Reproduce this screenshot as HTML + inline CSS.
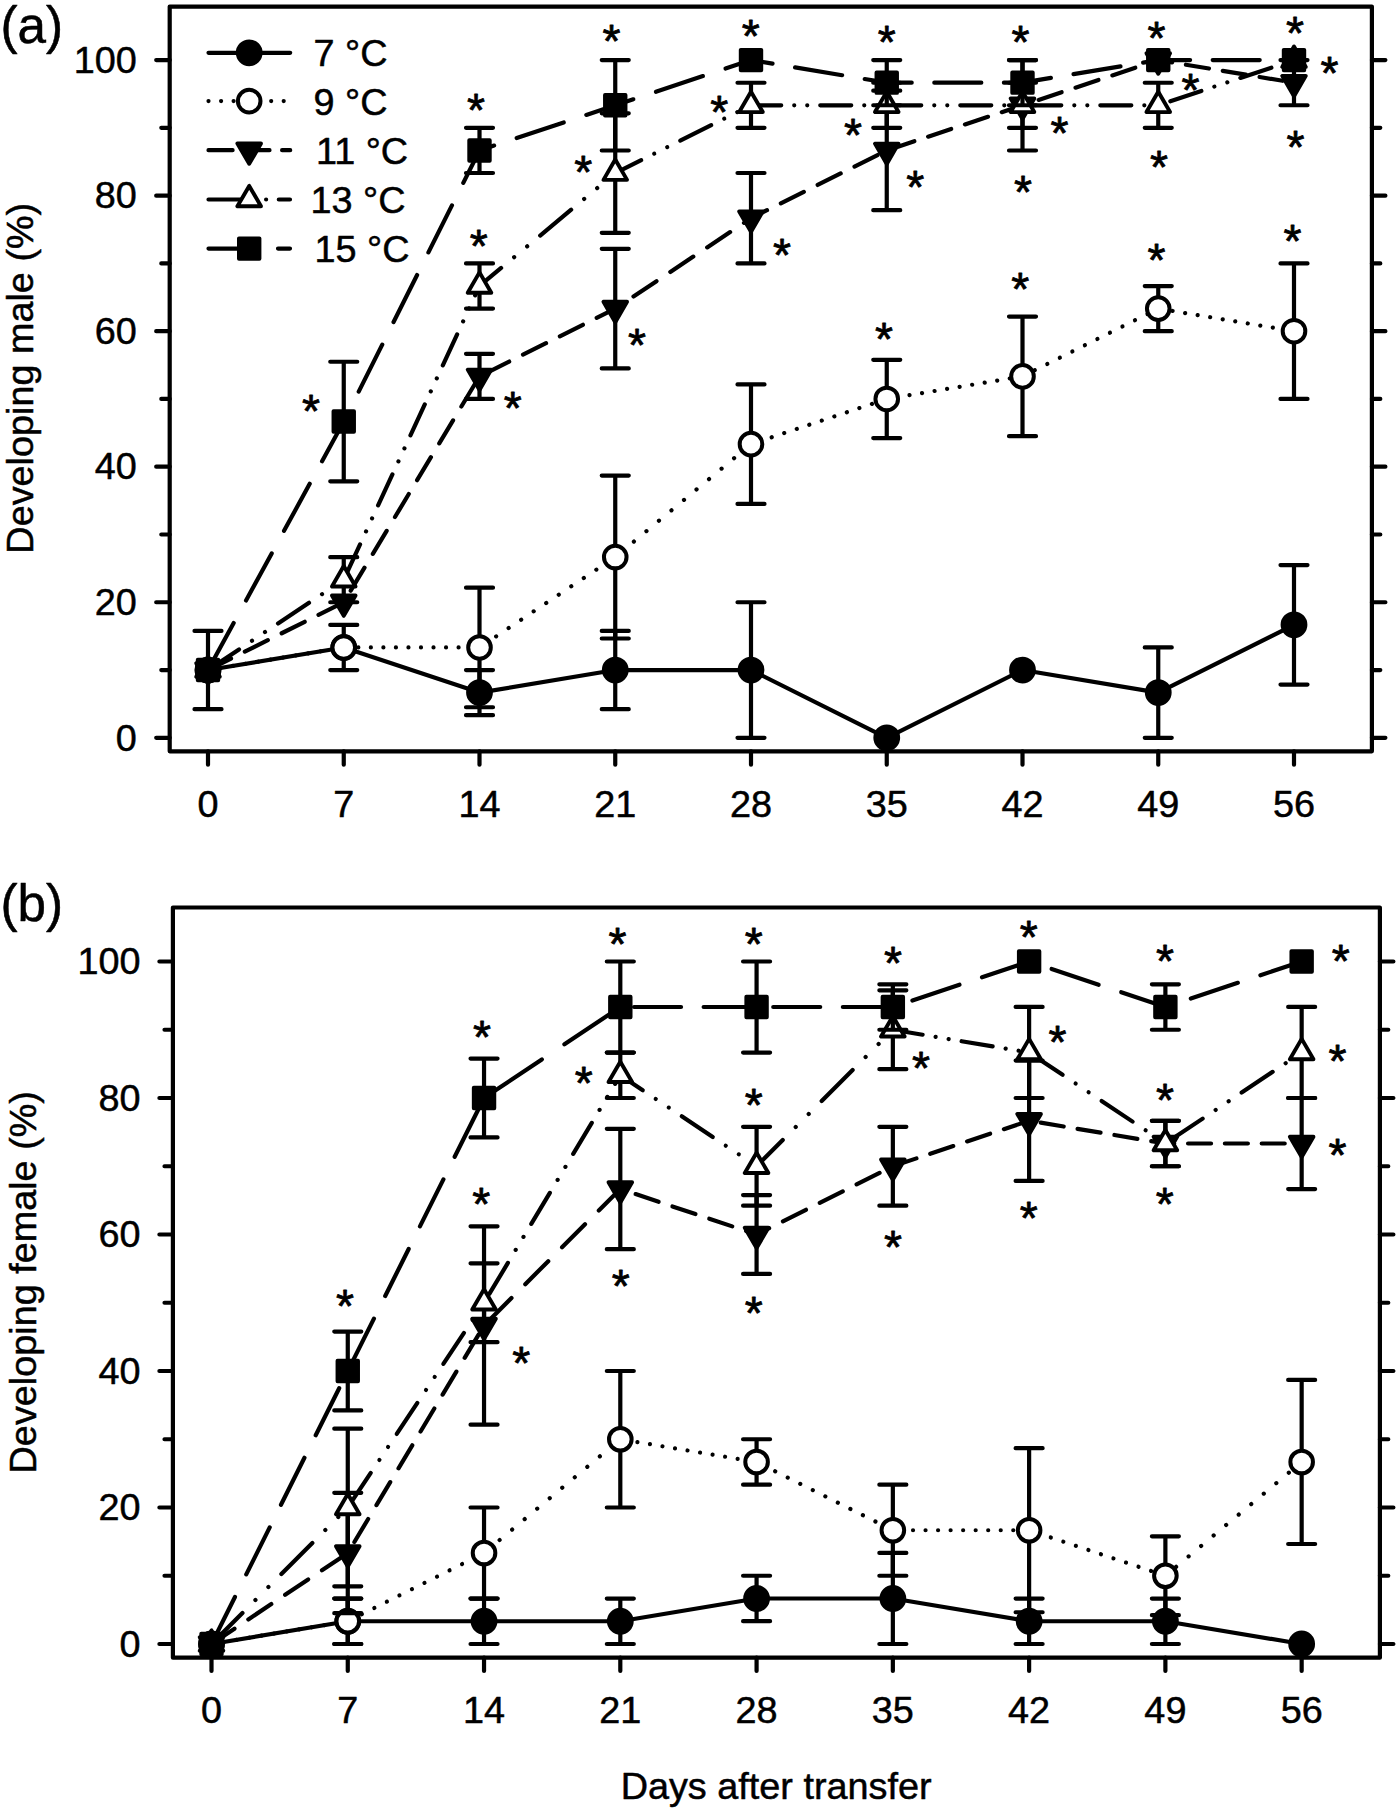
<!DOCTYPE html>
<html lang="en"><head><meta charset="utf-8"><title>Developing male and female (%) by days after transfer</title>
<style>html,body{margin:0;padding:0;background:#fff}body{width:1400px;height:1812px;overflow:hidden}svg{display:block}text{font-family:"Liberation Sans", Arial, Helvetica, sans-serif;fill:#000;stroke:#000;stroke-width:0.5px;stroke-linejoin:round}.st text{stroke-width:0.8px}</style>
</head><body>
<svg width="1400" height="1812" viewBox="0 0 1400 1812">
<rect width="1400" height="1812" fill="#fff"/>
<rect x="169.7" y="6.6" width="1202.2" height="744.75" fill="none" stroke="#000" stroke-width="4.2" stroke-linejoin="round"/>
<path d="M169.7 737.8H156.2M1371.9 737.8H1385.4M169.7 670.03H161.3M1371.9 670.03H1380.3M169.7 602.26H156.2M1371.9 602.26H1385.4M169.7 534.49H161.3M1371.9 534.49H1380.3M169.7 466.72H156.2M1371.9 466.72H1385.4M169.7 398.95H161.3M1371.9 398.95H1380.3M169.7 331.18H156.2M1371.9 331.18H1385.4M169.7 263.41H161.3M1371.9 263.41H1380.3M169.7 195.64H156.2M1371.9 195.64H1385.4M169.7 127.87H161.3M1371.9 127.87H1380.3M169.7 60.1H156.2M1371.9 60.1H1385.4M208 751.35V764.65M343.75 751.35V764.65M479.5 751.35V764.65M615.25 751.35V764.65M751 751.35V764.65M886.75 751.35V764.65M1022.5 751.35V764.65M1158.25 751.35V764.65M1294 751.35V764.65" fill="none" stroke="#000" stroke-width="4.2" stroke-linecap="round"/>
<g font-size="37.8" text-anchor="end">
<text x="136.8" y="750.5">0</text>
<text x="136.8" y="614.96">20</text>
<text x="136.8" y="479.42">40</text>
<text x="136.8" y="343.88">60</text>
<text x="136.8" y="208.34">80</text>
<text x="136.8" y="72.8">100</text>
</g>
<g font-size="37.8" text-anchor="middle">
<text x="208" y="817.1">0</text>
<text x="343.75" y="817.1">7</text>
<text x="479.5" y="817.1">14</text>
<text x="615.25" y="817.1">21</text>
<text x="751" y="817.1">28</text>
<text x="886.75" y="817.1">35</text>
<text x="1022.5" y="817.1">42</text>
<text x="1158.25" y="817.1">49</text>
<text x="1294" y="817.1">56</text>
</g>
<text font-size="37.8" text-anchor="middle" transform="translate(32.9 378.25) rotate(-90)">Developing male (%)</text>
<g fill="none" stroke="#000" stroke-width="4.2" stroke-linecap="round">
<line x1="208" y1="670.03" x2="343.75" y2="647.46"/>
<line x1="343.75" y1="647.46" x2="479.5" y2="692.6"/>
<line x1="479.5" y1="692.6" x2="615.25" y2="670.03"/>
<line x1="615.25" y1="670.03" x2="751" y2="670.03"/>
<line x1="751" y1="670.03" x2="886.75" y2="737.8"/>
<line x1="886.75" y1="737.8" x2="1022.5" y2="670.03"/>
<line x1="1022.5" y1="670.03" x2="1158.25" y2="692.6"/>
<line x1="1158.25" y1="692.6" x2="1294" y2="624.83"/>
<path d="M208 709.13V630.93M194.5 709.13H221.5M194.5 630.93H221.5"/>
<path d="M479.5 715.16V670.03M466 715.16H493M466 670.03H493"/>
<path d="M615.25 709.13V630.93M601.75 709.13H628.75M601.75 630.93H628.75"/>
<path d="M751 737.8V602.26M737.5 737.8H764.5M737.5 602.26H764.5"/>
<path d="M1158.25 737.8V647.39M1144.75 737.8H1171.75M1144.75 647.39H1171.75"/>
<path d="M1294 684.6V565.05M1280.5 684.6H1307.5M1280.5 565.05H1307.5"/>
</g>
<g>
<circle cx="208" cy="670.03" r="11.45" fill="#000" stroke="#000" stroke-width="3.9"/>
<circle cx="343.75" cy="647.46" r="11.45" fill="#000" stroke="#000" stroke-width="3.9"/>
<circle cx="479.5" cy="692.6" r="11.45" fill="#000" stroke="#000" stroke-width="3.9"/>
<circle cx="615.25" cy="670.03" r="11.45" fill="#000" stroke="#000" stroke-width="3.9"/>
<circle cx="751" cy="670.03" r="11.45" fill="#000" stroke="#000" stroke-width="3.9"/>
<circle cx="886.75" cy="737.8" r="11.45" fill="#000" stroke="#000" stroke-width="3.9"/>
<circle cx="1022.5" cy="670.03" r="11.45" fill="#000" stroke="#000" stroke-width="3.9"/>
<circle cx="1158.25" cy="692.6" r="11.45" fill="#000" stroke="#000" stroke-width="3.9"/>
<circle cx="1294" cy="624.83" r="11.45" fill="#000" stroke="#000" stroke-width="3.9"/>
</g>
<g fill="none" stroke="#000" stroke-width="4.2" stroke-linecap="round">
<line x1="208" y1="670.03" x2="343.75" y2="647.46" stroke-dasharray="0.01 12.69" stroke-dashoffset="0"/>
<line x1="343.75" y1="647.46" x2="479.5" y2="647.46" stroke-dasharray="0.01 12.52" stroke-dashoffset="10.48"/>
<line x1="479.5" y1="647.46" x2="615.25" y2="557.06" stroke-dasharray="0.01 15.04" stroke-dashoffset="10.13"/>
<line x1="615.25" y1="557.06" x2="751" y2="444.15" stroke-dasharray="0.01 16.28" stroke-dashoffset="8.31"/>
<line x1="751" y1="444.15" x2="886.75" y2="398.95" stroke-dasharray="0.01 13.19" stroke-dashoffset="4.57"/>
<line x1="886.75" y1="398.95" x2="1022.5" y2="376.38" stroke-dasharray="0.01 12.69" stroke-dashoffset="2.32"/>
<line x1="1022.5" y1="376.38" x2="1158.25" y2="308.61" stroke-dasharray="0.01 13.99" stroke-dashoffset="0.27"/>
<line x1="1158.25" y1="308.61" x2="1294" y2="331.18" stroke-dasharray="0.01 12.69" stroke-dashoffset="10.87"/>
<path d="M343.75 670.03V624.9M330.25 670.03H357.25M330.25 624.9H357.25"/>
<path d="M479.5 707.24V587.69M466 707.24H493M466 587.69H493"/>
<path d="M615.25 638.52V475.6M601.75 638.52H628.75M601.75 475.6H628.75"/>
<path d="M751 503.93V384.38M737.5 503.93H764.5M737.5 384.38H764.5"/>
<path d="M886.75 438.05V359.85M873.25 438.05H900.25M873.25 359.85H900.25"/>
<path d="M1022.5 436.16V316.61M1009 436.16H1036M1009 316.61H1036"/>
<path d="M1158.25 331.18V286.05M1144.75 331.18H1171.75M1144.75 286.05H1171.75"/>
<path d="M1294 398.95V263.41M1280.5 398.95H1307.5M1280.5 263.41H1307.5"/>
</g>
<g>
<circle cx="208" cy="670.03" r="11.3" fill="#fff" stroke="#000" stroke-width="4"/>
<circle cx="343.75" cy="647.46" r="11.3" fill="#fff" stroke="#000" stroke-width="4"/>
<circle cx="479.5" cy="647.46" r="11.3" fill="#fff" stroke="#000" stroke-width="4"/>
<circle cx="615.25" cy="557.06" r="11.3" fill="#fff" stroke="#000" stroke-width="4"/>
<circle cx="751" cy="444.15" r="11.3" fill="#fff" stroke="#000" stroke-width="4"/>
<circle cx="886.75" cy="398.95" r="11.3" fill="#fff" stroke="#000" stroke-width="4"/>
<circle cx="1022.5" cy="376.38" r="11.3" fill="#fff" stroke="#000" stroke-width="4"/>
<circle cx="1158.25" cy="308.61" r="11.3" fill="#fff" stroke="#000" stroke-width="4"/>
<circle cx="1294" cy="331.18" r="11.3" fill="#fff" stroke="#000" stroke-width="4"/>
</g>
<g fill="none" stroke="#000" stroke-width="4.2" stroke-linecap="round">
<line x1="208" y1="670.03" x2="343.75" y2="602.26" stroke-dasharray="25.71 15.46" stroke-dashoffset="0"/>
<line x1="343.75" y1="602.26" x2="479.5" y2="376.38" stroke-dasharray="26.83 16.14" stroke-dashoffset="29.47"/>
<line x1="479.5" y1="376.38" x2="615.25" y2="308.61" stroke-dasharray="25.71 15.46" stroke-dashoffset="33.71"/>
<line x1="615.25" y1="308.61" x2="751" y2="218.21" stroke-dasharray="27.63 16.62" stroke-dashoffset="22.33"/>
<line x1="751" y1="218.21" x2="886.75" y2="150.44" stroke-dasharray="25.71 15.46" stroke-dashoffset="7.84"/>
<line x1="886.75" y1="150.44" x2="1022.5" y2="105.3" stroke-dasharray="24.24 14.57" stroke-dashoffset="34.01"/>
<line x1="1022.5" y1="105.3" x2="1158.25" y2="60.1" stroke-dasharray="24.24 14.58" stroke-dashoffset="21.83"/>
<line x1="1158.25" y1="60.1" x2="1294" y2="82.67" stroke-dasharray="23.32 14.02" stroke-dashoffset="9.26"/>
<path d="M479.5 398.95V353.82M466 398.95H493M466 353.82H493"/>
<path d="M615.25 368.39V248.84M601.75 368.39H628.75M601.75 248.84H628.75"/>
<path d="M751 263.41V173M737.5 263.41H764.5M737.5 173H764.5"/>
<path d="M886.75 210.21V90.66M873.25 210.21H900.25M873.25 90.66H900.25"/>
<path d="M1022.5 150.51V60.1M1009 150.51H1036M1009 60.1H1036"/>
<path d="M1294 105.23V60.1M1280.5 105.23H1307.5M1280.5 60.1H1307.5"/>
</g>
<g>
<polygon points="196.2,663.23 219.8,663.23 208,683.63" fill="#000" stroke="#000" stroke-width="3.9" stroke-linejoin="round"/>
<polygon points="331.95,595.46 355.55,595.46 343.75,615.86" fill="#000" stroke="#000" stroke-width="3.9" stroke-linejoin="round"/>
<polygon points="467.7,369.58 491.3,369.58 479.5,389.98" fill="#000" stroke="#000" stroke-width="3.9" stroke-linejoin="round"/>
<polygon points="603.45,301.81 627.05,301.81 615.25,322.21" fill="#000" stroke="#000" stroke-width="3.9" stroke-linejoin="round"/>
<polygon points="739.2,211.41 762.8,211.41 751,231.81" fill="#000" stroke="#000" stroke-width="3.9" stroke-linejoin="round"/>
<polygon points="874.95,143.64 898.55,143.64 886.75,164.04" fill="#000" stroke="#000" stroke-width="3.9" stroke-linejoin="round"/>
<polygon points="1010.7,98.5 1034.3,98.5 1022.5,118.9" fill="#000" stroke="#000" stroke-width="3.9" stroke-linejoin="round"/>
<polygon points="1146.45,53.3 1170.05,53.3 1158.25,73.7" fill="#000" stroke="#000" stroke-width="3.9" stroke-linejoin="round"/>
<polygon points="1282.2,75.87 1305.8,75.87 1294,96.27" fill="#000" stroke="#000" stroke-width="3.9" stroke-linejoin="round"/>
</g>
<g fill="none" stroke="#000" stroke-width="4.2" stroke-linecap="round">
<line x1="208" y1="670.03" x2="343.75" y2="579.69" stroke-dasharray="37.24 15.62 0.01 15.62 0.01 15.62" stroke-dashoffset="0"/>
<line x1="343.75" y1="579.69" x2="479.5" y2="285.98" stroke-dasharray="34.15 14.32 0.01 14.32 0.01 14.32" stroke-dashoffset="72.41"/>
<line x1="479.5" y1="285.98" x2="615.25" y2="173.07" stroke-dasharray="40.32 16.91 0.01 16.91 0.01 16.91" stroke-dashoffset="12.16"/>
<line x1="615.25" y1="173.07" x2="751" y2="105.3" stroke-dasharray="34.65 14.53 0.01 14.53 0.01 14.53" stroke-dashoffset="5.65"/>
<line x1="751" y1="105.3" x2="886.75" y2="105.3" stroke-dasharray="31 13 0.01 13 0.01 13" stroke-dashoffset="0.77"/>
<line x1="886.75" y1="105.3" x2="1022.5" y2="105.3" stroke-dasharray="31 13 0.01 13 0.01 13" stroke-dashoffset="66.5"/>
<line x1="1022.5" y1="105.3" x2="1158.25" y2="105.3" stroke-dasharray="31 13 0.01 13 0.01 13" stroke-dashoffset="62.21"/>
<line x1="1158.25" y1="105.3" x2="1294" y2="60.1" stroke-dasharray="32.67 13.7 0.01 13.7 0.01 13.7" stroke-dashoffset="61.04"/>
<path d="M343.75 602.26V557.13M330.25 602.26H357.25M330.25 557.13H357.25"/>
<path d="M479.5 308.54V263.41M466 308.54H493M466 263.41H493"/>
<path d="M615.25 232.85V113.3M601.75 232.85H628.75M601.75 113.3H628.75"/>
<path d="M751 127.87V82.74M737.5 127.87H764.5M737.5 82.74H764.5"/>
<path d="M886.75 127.87V82.74M873.25 127.87H900.25M873.25 82.74H900.25"/>
<path d="M1022.5 127.87V82.74M1009 127.87H1036M1009 82.74H1036"/>
<path d="M1158.25 127.87V82.74M1144.75 127.87H1171.75M1144.75 82.74H1171.75"/>
</g>
<g>
<polygon points="196.2,676.83 219.8,676.83 208,656.43" fill="#fff" stroke="#000" stroke-width="3.9" stroke-linejoin="round"/>
<polygon points="331.95,586.49 355.55,586.49 343.75,566.09" fill="#fff" stroke="#000" stroke-width="3.9" stroke-linejoin="round"/>
<polygon points="467.7,292.78 491.3,292.78 479.5,272.38" fill="#fff" stroke="#000" stroke-width="3.9" stroke-linejoin="round"/>
<polygon points="603.45,179.87 627.05,179.87 615.25,159.47" fill="#fff" stroke="#000" stroke-width="3.9" stroke-linejoin="round"/>
<polygon points="739.2,112.1 762.8,112.1 751,91.7" fill="#fff" stroke="#000" stroke-width="3.9" stroke-linejoin="round"/>
<polygon points="874.95,112.1 898.55,112.1 886.75,91.7" fill="#fff" stroke="#000" stroke-width="3.9" stroke-linejoin="round"/>
<polygon points="1010.7,112.1 1034.3,112.1 1022.5,91.7" fill="#fff" stroke="#000" stroke-width="3.9" stroke-linejoin="round"/>
<polygon points="1146.45,112.1 1170.05,112.1 1158.25,91.7" fill="#fff" stroke="#000" stroke-width="3.9" stroke-linejoin="round"/>
<polygon points="1282.2,66.9 1305.8,66.9 1294,46.5" fill="#fff" stroke="#000" stroke-width="3.9" stroke-linejoin="round"/>
</g>
<g fill="none" stroke="#000" stroke-width="4.2" stroke-linecap="round">
<line x1="208" y1="670.03" x2="343.75" y2="421.52" stroke-dasharray="53.56 25.75" stroke-dashoffset="0"/>
<line x1="343.75" y1="421.52" x2="479.5" y2="150.44" stroke-dasharray="52.56 25.28" stroke-dashoffset="44.41"/>
<line x1="479.5" y1="150.44" x2="615.25" y2="105.3" stroke-dasharray="49.53 23.82" stroke-dashoffset="34.14"/>
<line x1="615.25" y1="105.3" x2="751" y2="60.1" stroke-dasharray="49.54 23.82" stroke-dashoffset="30.5"/>
<line x1="751" y1="60.1" x2="886.75" y2="82.67" stroke-dasharray="47.65 22.91" stroke-dashoffset="25.84"/>
<line x1="886.75" y1="82.67" x2="1022.5" y2="82.67" stroke-dasharray="47 22.6" stroke-dashoffset="22.04"/>
<line x1="1022.5" y1="82.67" x2="1158.25" y2="60.1" stroke-dasharray="47.65 22.91" stroke-dashoffset="18.85"/>
<line x1="1158.25" y1="60.1" x2="1294" y2="60.1" stroke-dasharray="47 22.6" stroke-dashoffset="15.14"/>
<path d="M343.75 481.29V361.74M330.25 481.29H357.25M330.25 361.74H357.25"/>
<path d="M479.5 173V127.87M466 173H493M466 127.87H493"/>
<path d="M615.25 150.51V60.1M601.75 150.51H628.75M601.75 60.1H628.75"/>
<path d="M886.75 105.23V60.1M873.25 105.23H900.25M873.25 60.1H900.25"/>
<path d="M1022.5 105.23V60.1M1009 105.23H1036M1009 60.1H1036"/>
</g>
<g>
<rect x="197.75" y="659.78" width="20.5" height="20.5" fill="#000" stroke="#000" stroke-width="3.9" stroke-linejoin="round"/>
<rect x="333.5" y="411.27" width="20.5" height="20.5" fill="#000" stroke="#000" stroke-width="3.9" stroke-linejoin="round"/>
<rect x="469.25" y="140.19" width="20.5" height="20.5" fill="#000" stroke="#000" stroke-width="3.9" stroke-linejoin="round"/>
<rect x="605" y="95.05" width="20.5" height="20.5" fill="#000" stroke="#000" stroke-width="3.9" stroke-linejoin="round"/>
<rect x="740.75" y="49.85" width="20.5" height="20.5" fill="#000" stroke="#000" stroke-width="3.9" stroke-linejoin="round"/>
<rect x="876.5" y="72.42" width="20.5" height="20.5" fill="#000" stroke="#000" stroke-width="3.9" stroke-linejoin="round"/>
<rect x="1012.25" y="72.42" width="20.5" height="20.5" fill="#000" stroke="#000" stroke-width="3.9" stroke-linejoin="round"/>
<rect x="1148" y="49.85" width="20.5" height="20.5" fill="#000" stroke="#000" stroke-width="3.9" stroke-linejoin="round"/>
<rect x="1283.75" y="49.85" width="20.5" height="20.5" fill="#000" stroke="#000" stroke-width="3.9" stroke-linejoin="round"/>
</g>
<rect x="172.9" y="907.5" width="1207" height="750.2" fill="none" stroke="#000" stroke-width="4.2" stroke-linejoin="round"/>
<path d="M172.9 1644H159.4M1379.9 1644H1393.4M172.9 1575.75H164.5M1379.9 1575.75H1388.3M172.9 1507.5H159.4M1379.9 1507.5H1393.4M172.9 1439.25H164.5M1379.9 1439.25H1388.3M172.9 1371H159.4M1379.9 1371H1393.4M172.9 1302.75H164.5M1379.9 1302.75H1388.3M172.9 1234.5H159.4M1379.9 1234.5H1393.4M172.9 1166.25H164.5M1379.9 1166.25H1388.3M172.9 1098H159.4M1379.9 1098H1393.4M172.9 1029.75H164.5M1379.9 1029.75H1388.3M172.9 961.5H159.4M1379.9 961.5H1393.4M211.5 1657.7V1671M347.77 1657.7V1671M484.04 1657.7V1671M620.31 1657.7V1671M756.58 1657.7V1671M892.85 1657.7V1671M1029.12 1657.7V1671M1165.39 1657.7V1671M1301.66 1657.7V1671" fill="none" stroke="#000" stroke-width="4.2" stroke-linecap="round"/>
<g font-size="37.8" text-anchor="end">
<text x="140.6" y="1656.7">0</text>
<text x="140.6" y="1520.2">20</text>
<text x="140.6" y="1383.7">40</text>
<text x="140.6" y="1247.2">60</text>
<text x="140.6" y="1110.7">80</text>
<text x="140.6" y="974.2">100</text>
</g>
<g font-size="37.8" text-anchor="middle">
<text x="211.5" y="1723.4">0</text>
<text x="347.77" y="1723.4">7</text>
<text x="484.04" y="1723.4">14</text>
<text x="620.31" y="1723.4">21</text>
<text x="756.58" y="1723.4">28</text>
<text x="892.85" y="1723.4">35</text>
<text x="1029.12" y="1723.4">42</text>
<text x="1165.39" y="1723.4">49</text>
<text x="1301.66" y="1723.4">56</text>
</g>
<text font-size="37.8" text-anchor="middle" transform="translate(36 1282.25) rotate(-90)">Developing female (%)</text>
<g fill="none" stroke="#000" stroke-width="4.2" stroke-linecap="round">
<line x1="211.5" y1="1644" x2="347.77" y2="1621.27"/>
<line x1="347.77" y1="1621.27" x2="484.04" y2="1621.27"/>
<line x1="484.04" y1="1621.27" x2="620.31" y2="1621.27"/>
<line x1="620.31" y1="1621.27" x2="756.58" y2="1598.48"/>
<line x1="756.58" y1="1598.48" x2="892.85" y2="1598.48"/>
<line x1="892.85" y1="1598.48" x2="1029.12" y2="1621.27"/>
<line x1="1029.12" y1="1621.27" x2="1165.39" y2="1621.27"/>
<line x1="1165.39" y1="1621.27" x2="1301.66" y2="1644"/>
<path d="M347.77 1644V1598.55M334.27 1644H361.27M334.27 1598.55H361.27"/>
<path d="M484.04 1644V1598.55M470.54 1644H497.54M470.54 1598.55H497.54"/>
<path d="M620.31 1644V1598.55M606.81 1644H633.81M606.81 1598.55H633.81"/>
<path d="M756.58 1621.2V1575.75M743.08 1621.2H770.08M743.08 1575.75H770.08"/>
<path d="M892.85 1644V1552.95M879.35 1644H906.35M879.35 1552.95H906.35"/>
<path d="M1029.12 1644V1598.55M1015.62 1644H1042.62M1015.62 1598.55H1042.62"/>
<path d="M1165.39 1644V1598.55M1151.89 1644H1178.89M1151.89 1598.55H1178.89"/>
</g>
<g>
<circle cx="211.5" cy="1644" r="11.45" fill="#000" stroke="#000" stroke-width="3.9"/>
<circle cx="347.77" cy="1621.27" r="11.45" fill="#000" stroke="#000" stroke-width="3.9"/>
<circle cx="484.04" cy="1621.27" r="11.45" fill="#000" stroke="#000" stroke-width="3.9"/>
<circle cx="620.31" cy="1621.27" r="11.45" fill="#000" stroke="#000" stroke-width="3.9"/>
<circle cx="756.58" cy="1598.48" r="11.45" fill="#000" stroke="#000" stroke-width="3.9"/>
<circle cx="892.85" cy="1598.48" r="11.45" fill="#000" stroke="#000" stroke-width="3.9"/>
<circle cx="1029.12" cy="1621.27" r="11.45" fill="#000" stroke="#000" stroke-width="3.9"/>
<circle cx="1165.39" cy="1621.27" r="11.45" fill="#000" stroke="#000" stroke-width="3.9"/>
<circle cx="1301.66" cy="1644" r="11.45" fill="#000" stroke="#000" stroke-width="3.9"/>
</g>
<g fill="none" stroke="#000" stroke-width="4.2" stroke-linecap="round">
<line x1="211.5" y1="1644" x2="347.77" y2="1621.27" stroke-dasharray="0.01 12.69" stroke-dashoffset="0"/>
<line x1="347.77" y1="1621.27" x2="484.04" y2="1553.02" stroke-dasharray="0.01 14" stroke-dashoffset="12.3"/>
<line x1="484.04" y1="1553.02" x2="620.31" y2="1439.25" stroke-dasharray="0.01 16.31" stroke-dashoffset="12.34"/>
<line x1="620.31" y1="1439.25" x2="756.58" y2="1461.98" stroke-dasharray="0.01 12.69" stroke-dashoffset="8.06"/>
<line x1="756.58" y1="1461.98" x2="892.85" y2="1530.23" stroke-dasharray="0.01 14" stroke-dashoffset="7.18"/>
<line x1="892.85" y1="1530.23" x2="1029.12" y2="1530.23" stroke-dasharray="0.01 12.52" stroke-dashoffset="4.89"/>
<line x1="1029.12" y1="1530.23" x2="1165.39" y2="1575.75" stroke-dasharray="0.01 13.2" stroke-dashoffset="3.55"/>
<line x1="1165.39" y1="1575.75" x2="1301.66" y2="1461.98" stroke-dasharray="0.01 16.31" stroke-dashoffset="2.39"/>
<path d="M347.77 1644V1598.55M334.27 1644H361.27M334.27 1598.55H361.27"/>
<path d="M484.04 1598.55V1507.5M470.54 1598.55H497.54M470.54 1507.5H497.54"/>
<path d="M620.31 1507.5V1371M606.81 1507.5H633.81M606.81 1371H633.81"/>
<path d="M756.58 1484.7V1439.25M743.08 1484.7H770.08M743.08 1439.25H770.08"/>
<path d="M892.85 1575.75V1484.7M879.35 1575.75H906.35M879.35 1484.7H906.35"/>
<path d="M1029.12 1612.26V1448.19M1015.62 1612.26H1042.62M1015.62 1448.19H1042.62"/>
<path d="M1165.39 1615.13V1536.37M1151.89 1615.13H1178.89M1151.89 1536.37H1178.89"/>
<path d="M1301.66 1544.01V1379.94M1288.16 1544.01H1315.16M1288.16 1379.94H1315.16"/>
</g>
<g>
<circle cx="211.5" cy="1644" r="11.3" fill="#fff" stroke="#000" stroke-width="4"/>
<circle cx="347.77" cy="1621.27" r="11.3" fill="#fff" stroke="#000" stroke-width="4"/>
<circle cx="484.04" cy="1553.02" r="11.3" fill="#fff" stroke="#000" stroke-width="4"/>
<circle cx="620.31" cy="1439.25" r="11.3" fill="#fff" stroke="#000" stroke-width="4"/>
<circle cx="756.58" cy="1461.98" r="11.3" fill="#fff" stroke="#000" stroke-width="4"/>
<circle cx="892.85" cy="1530.23" r="11.3" fill="#fff" stroke="#000" stroke-width="4"/>
<circle cx="1029.12" cy="1530.23" r="11.3" fill="#fff" stroke="#000" stroke-width="4"/>
<circle cx="1165.39" cy="1575.75" r="11.3" fill="#fff" stroke="#000" stroke-width="4"/>
<circle cx="1301.66" cy="1461.98" r="11.3" fill="#fff" stroke="#000" stroke-width="4"/>
</g>
<g fill="none" stroke="#000" stroke-width="4.2" stroke-linecap="round">
<line x1="211.5" y1="1644" x2="347.77" y2="1553.02" stroke-dasharray="27.65 16.63" stroke-dashoffset="0"/>
<line x1="347.77" y1="1553.02" x2="484.04" y2="1325.48" stroke-dasharray="26.81 16.12" stroke-dashoffset="30.05"/>
<line x1="484.04" y1="1325.48" x2="620.31" y2="1188.98" stroke-dasharray="32.5 19.54" stroke-dashoffset="45.7"/>
<line x1="620.31" y1="1188.98" x2="756.58" y2="1234.5" stroke-dasharray="24.25 14.58" stroke-dashoffset="22.69"/>
<line x1="756.58" y1="1234.5" x2="892.85" y2="1166.25" stroke-dasharray="25.72 15.47" stroke-dashoffset="11.72"/>
<line x1="892.85" y1="1166.25" x2="1029.12" y2="1120.73" stroke-dasharray="24.25 14.58" stroke-dashoffset="38.23"/>
<line x1="1029.12" y1="1120.73" x2="1165.39" y2="1143.52" stroke-dasharray="23.32 14.02" stroke-dashoffset="25.56"/>
<line x1="1165.39" y1="1143.52" x2="1301.66" y2="1143.52" stroke-dasharray="23 13.83" stroke-dashoffset="14.16"/>
<path d="M347.77 1613.22V1492.83M334.27 1613.22H361.27M334.27 1492.83H361.27"/>
<path d="M484.04 1424.64V1226.31M470.54 1424.64H497.54M470.54 1226.31H497.54"/>
<path d="M620.31 1249.17V1128.78M606.81 1249.17H633.81M606.81 1128.78H633.81"/>
<path d="M756.58 1273.88V1195.12M743.08 1273.88H770.08M743.08 1195.12H770.08"/>
<path d="M892.85 1205.63V1126.87M879.35 1205.63H906.35M879.35 1126.87H906.35"/>
<path d="M1029.12 1180.92V1060.53M1015.62 1180.92H1042.62M1015.62 1060.53H1042.62"/>
<path d="M1165.39 1166.25V1120.8M1151.89 1166.25H1178.89M1151.89 1120.8H1178.89"/>
<path d="M1301.66 1189.05V1098M1288.16 1189.05H1315.16M1288.16 1098H1315.16"/>
</g>
<g>
<polygon points="199.7,1637.2 223.3,1637.2 211.5,1657.6" fill="#000" stroke="#000" stroke-width="3.9" stroke-linejoin="round"/>
<polygon points="335.97,1546.22 359.57,1546.22 347.77,1566.62" fill="#000" stroke="#000" stroke-width="3.9" stroke-linejoin="round"/>
<polygon points="472.24,1318.68 495.84,1318.68 484.04,1339.08" fill="#000" stroke="#000" stroke-width="3.9" stroke-linejoin="round"/>
<polygon points="608.51,1182.18 632.11,1182.18 620.31,1202.58" fill="#000" stroke="#000" stroke-width="3.9" stroke-linejoin="round"/>
<polygon points="744.78,1227.7 768.38,1227.7 756.58,1248.1" fill="#000" stroke="#000" stroke-width="3.9" stroke-linejoin="round"/>
<polygon points="881.05,1159.45 904.65,1159.45 892.85,1179.85" fill="#000" stroke="#000" stroke-width="3.9" stroke-linejoin="round"/>
<polygon points="1017.32,1113.93 1040.92,1113.93 1029.12,1134.33" fill="#000" stroke="#000" stroke-width="3.9" stroke-linejoin="round"/>
<polygon points="1153.59,1136.72 1177.19,1136.72 1165.39,1157.12" fill="#000" stroke="#000" stroke-width="3.9" stroke-linejoin="round"/>
<polygon points="1289.86,1136.72 1313.46,1136.72 1301.66,1157.12" fill="#000" stroke="#000" stroke-width="3.9" stroke-linejoin="round"/>
</g>
<g fill="none" stroke="#000" stroke-width="4.2" stroke-linecap="round">
<line x1="211.5" y1="1644" x2="347.77" y2="1507.5" stroke-dasharray="43.8 18.37 0.01 18.37 0.01 18.37" stroke-dashoffset="0"/>
<line x1="347.77" y1="1507.5" x2="484.04" y2="1302.75" stroke-dasharray="37.24 15.62 0.01 15.62 0.01 15.62" stroke-dashoffset="79.86"/>
<line x1="484.04" y1="1302.75" x2="620.31" y2="1075.27" stroke-dasharray="36.14 15.15 0.01 15.15 0.01 15.15" stroke-dashoffset="71.31"/>
<line x1="620.31" y1="1075.27" x2="756.58" y2="1166.25" stroke-dasharray="37.27 15.63 0.01 15.63 0.01 15.63" stroke-dashoffset="10.3"/>
<line x1="756.58" y1="1166.25" x2="892.85" y2="1029.75" stroke-dasharray="43.8 18.37 0.01 18.37 0.01 18.37" stroke-dashoffset="6.78"/>
<line x1="892.85" y1="1029.75" x2="1029.12" y2="1052.48" stroke-dasharray="31.43 13.18 0.01 13.18 0.01 13.18" stroke-dashoffset="1.27"/>
<line x1="1029.12" y1="1052.48" x2="1165.39" y2="1143.52" stroke-dasharray="37.28 15.63 0.01 15.63 0.01 15.63" stroke-dashoffset="81.19"/>
<line x1="1165.39" y1="1143.52" x2="1301.66" y2="1052.48" stroke-dasharray="37.28 15.63 0.01 15.63 0.01 15.63" stroke-dashoffset="76.65"/>
<path d="M347.77 1586.33V1428.67M334.27 1586.33H361.27M334.27 1428.67H361.27"/>
<path d="M484.04 1342.13V1263.37M470.54 1342.13H497.54M470.54 1263.37H497.54"/>
<path d="M620.31 1098V1052.55M606.81 1098H633.81M606.81 1052.55H633.81"/>
<path d="M756.58 1205.63V1126.87M743.08 1205.63H770.08M743.08 1126.87H770.08"/>
<path d="M892.85 1069.13V990.37M879.35 1069.13H906.35M879.35 990.37H906.35"/>
<path d="M1029.12 1098V1006.95M1015.62 1098H1042.62M1015.62 1006.95H1042.62"/>
<path d="M1165.39 1166.25V1120.8M1151.89 1166.25H1178.89M1151.89 1120.8H1178.89"/>
<path d="M1301.66 1098V1006.95M1288.16 1098H1315.16M1288.16 1006.95H1315.16"/>
</g>
<g>
<polygon points="199.7,1650.8 223.3,1650.8 211.5,1630.4" fill="#fff" stroke="#000" stroke-width="3.9" stroke-linejoin="round"/>
<polygon points="335.97,1514.3 359.57,1514.3 347.77,1493.9" fill="#fff" stroke="#000" stroke-width="3.9" stroke-linejoin="round"/>
<polygon points="472.24,1309.55 495.84,1309.55 484.04,1289.15" fill="#fff" stroke="#000" stroke-width="3.9" stroke-linejoin="round"/>
<polygon points="608.51,1082.07 632.11,1082.07 620.31,1061.67" fill="#fff" stroke="#000" stroke-width="3.9" stroke-linejoin="round"/>
<polygon points="744.78,1173.05 768.38,1173.05 756.58,1152.65" fill="#fff" stroke="#000" stroke-width="3.9" stroke-linejoin="round"/>
<polygon points="881.05,1036.55 904.65,1036.55 892.85,1016.15" fill="#fff" stroke="#000" stroke-width="3.9" stroke-linejoin="round"/>
<polygon points="1017.32,1059.28 1040.92,1059.28 1029.12,1038.88" fill="#fff" stroke="#000" stroke-width="3.9" stroke-linejoin="round"/>
<polygon points="1153.59,1150.32 1177.19,1150.32 1165.39,1129.92" fill="#fff" stroke="#000" stroke-width="3.9" stroke-linejoin="round"/>
<polygon points="1289.86,1059.28 1313.46,1059.28 1301.66,1038.88" fill="#fff" stroke="#000" stroke-width="3.9" stroke-linejoin="round"/>
</g>
<g fill="none" stroke="#000" stroke-width="4.2" stroke-linecap="round">
<line x1="211.5" y1="1644" x2="347.77" y2="1371" stroke-dasharray="52.53 25.26" stroke-dashoffset="0"/>
<line x1="347.77" y1="1371" x2="484.04" y2="1098" stroke-dasharray="52.53 25.26" stroke-dashoffset="71.75"/>
<line x1="484.04" y1="1098" x2="620.31" y2="1007.02" stroke-dasharray="56.51 27.17" stroke-dashoffset="70.7"/>
<line x1="620.31" y1="1007.02" x2="756.58" y2="1007.02" stroke-dasharray="47 22.6" stroke-dashoffset="55.87"/>
<line x1="756.58" y1="1007.02" x2="892.85" y2="1007.02" stroke-dasharray="47 22.6" stroke-dashoffset="52.94"/>
<line x1="892.85" y1="1007.02" x2="1029.12" y2="961.5" stroke-dasharray="49.55 23.83" stroke-dashoffset="52.73"/>
<line x1="1029.12" y1="961.5" x2="1165.39" y2="1007.02" stroke-dasharray="49.55 23.83" stroke-dashoffset="49.64"/>
<line x1="1165.39" y1="1007.02" x2="1301.66" y2="961.5" stroke-dasharray="49.55 23.83" stroke-dashoffset="46.55"/>
<path d="M347.77 1410.38V1331.62M334.27 1410.38H361.27M334.27 1331.62H361.27"/>
<path d="M484.04 1137.38V1058.62M470.54 1137.38H497.54M470.54 1058.62H497.54"/>
<path d="M620.31 1052.55V961.5M606.81 1052.55H633.81M606.81 961.5H633.81"/>
<path d="M756.58 1052.55V961.5M743.08 1052.55H770.08M743.08 961.5H770.08"/>
<path d="M892.85 1029.75V984.3M879.35 1029.75H906.35M879.35 984.3H906.35"/>
<path d="M1165.39 1029.75V984.3M1151.89 1029.75H1178.89M1151.89 984.3H1178.89"/>
</g>
<g>
<rect x="201.25" y="1633.75" width="20.5" height="20.5" fill="#000" stroke="#000" stroke-width="3.9" stroke-linejoin="round"/>
<rect x="337.52" y="1360.75" width="20.5" height="20.5" fill="#000" stroke="#000" stroke-width="3.9" stroke-linejoin="round"/>
<rect x="473.79" y="1087.75" width="20.5" height="20.5" fill="#000" stroke="#000" stroke-width="3.9" stroke-linejoin="round"/>
<rect x="610.06" y="996.77" width="20.5" height="20.5" fill="#000" stroke="#000" stroke-width="3.9" stroke-linejoin="round"/>
<rect x="746.33" y="996.77" width="20.5" height="20.5" fill="#000" stroke="#000" stroke-width="3.9" stroke-linejoin="round"/>
<rect x="882.6" y="996.77" width="20.5" height="20.5" fill="#000" stroke="#000" stroke-width="3.9" stroke-linejoin="round"/>
<rect x="1018.87" y="951.25" width="20.5" height="20.5" fill="#000" stroke="#000" stroke-width="3.9" stroke-linejoin="round"/>
<rect x="1155.14" y="996.77" width="20.5" height="20.5" fill="#000" stroke="#000" stroke-width="3.9" stroke-linejoin="round"/>
<rect x="1291.41" y="951.25" width="20.5" height="20.5" fill="#000" stroke="#000" stroke-width="3.9" stroke-linejoin="round"/>
</g>
<text x="0.5" y="42.7" font-size="51.2">(a)</text>
<text x="0.5" y="920.8" font-size="51.2">(b)</text>
<text x="776.1" y="1799" font-size="37.8" text-anchor="middle">Days after transfer</text>
<g fill="none" stroke="#000" stroke-width="4.2" stroke-linecap="round">
<path d="M208.5 52.8H290.2"/>
<path d="M208.5 101.1H208.51M221.1 101.1H221.11M233.6 101.1H233.61M271.2 101.1H271.21M283.7 101.1H283.71"/>
<path d="M208.5 150.2H232.6M245 150.2H269.5M282.1 150.2H290.2"/>
<path d="M208.5 199.5H240M266.1 199.5H266.11M278.8 199.5H290"/>
<path d="M208.5 248.6H250M278 248.6H290"/>
</g>
<circle cx="249.2" cy="52.8" r="11.45" fill="#000" stroke="#000" stroke-width="3.9"/>
<circle cx="249.2" cy="101.1" r="11.3" fill="#fff" stroke="#000" stroke-width="4"/>
<polygon points="237.4,143.4 261,143.4 249.2,163.8" fill="#000" stroke="#000" stroke-width="3.9" stroke-linejoin="round"/>
<polygon points="237.4,206.3 261,206.3 249.2,185.9" fill="#fff" stroke="#000" stroke-width="3.9" stroke-linejoin="round"/>
<rect x="238.95" y="238.35" width="20.5" height="20.5" fill="#000" stroke="#000" stroke-width="3.9" stroke-linejoin="round"/>
<g font-size="37.8">
<text x="313.5" y="65.7">7 °C</text>
<text x="313.5" y="114.8">9 °C</text>
<text x="316" y="163.9">11 °C</text>
<text x="310.5" y="213">13 °C</text>
<text x="314.5" y="262.1">15 °C</text>
</g>
<g class="st" font-size="46.2" text-anchor="middle">
<text x="311" y="426.8">*</text>
<text x="476" y="125.6">*</text>
<text x="512.7" y="424.3">*</text>
<text x="478.7" y="262">*</text>
<text x="611.5" y="57.4">*</text>
<text x="583.2" y="187.9">*</text>
<text x="637.1" y="361">*</text>
<text x="750.7" y="51.8">*</text>
<text x="719.2" y="128.4">*</text>
<text x="781.9" y="270.9">*</text>
<text x="852.9" y="151.2">*</text>
<text x="886.8" y="57.8">*</text>
<text x="915.3" y="202.7">*</text>
<text x="884" y="355.1">*</text>
<text x="1020.4" y="58.1">*</text>
<text x="1059.5" y="148.6">*</text>
<text x="1022.9" y="208">*</text>
<text x="1020.2" y="304.5">*</text>
<text x="1156.6" y="54.4">*</text>
<text x="1190.5" y="105.7">*</text>
<text x="1159" y="182.5">*</text>
<text x="1156.6" y="276.2">*</text>
<text x="1295.1" y="48.6">*</text>
<text x="1329.4" y="88.6">*</text>
<text x="1295.4" y="162.5">*</text>
<text x="1292.5" y="256.6">*</text>
<text x="345" y="1322.45">*</text>
<text x="481.9" y="1053.1">*</text>
<text x="481.25" y="1219.95">*</text>
<text x="521.25" y="1378.7">*</text>
<text x="617.5" y="959.95">*</text>
<text x="583.75" y="1098.7">*</text>
<text x="620.75" y="1302.45">*</text>
<text x="753.75" y="959.7">*</text>
<text x="753.75" y="1121.2">*</text>
<text x="753.75" y="1328.7">*</text>
<text x="892.9" y="978.7">*</text>
<text x="921" y="1083.95">*</text>
<text x="892.9" y="1263.1">*</text>
<text x="1028.75" y="953.2">*</text>
<text x="1057.5" y="1058.2">*</text>
<text x="1028.75" y="1234.3">*</text>
<text x="1165" y="976.95">*</text>
<text x="1165" y="1115.7">*</text>
<text x="1164.7" y="1220.3">*</text>
<text x="1340.75" y="976.95">*</text>
<text x="1337.5" y="1077.45">*</text>
<text x="1337.5" y="1171.2">*</text>
</g>
</svg>
</body></html>
